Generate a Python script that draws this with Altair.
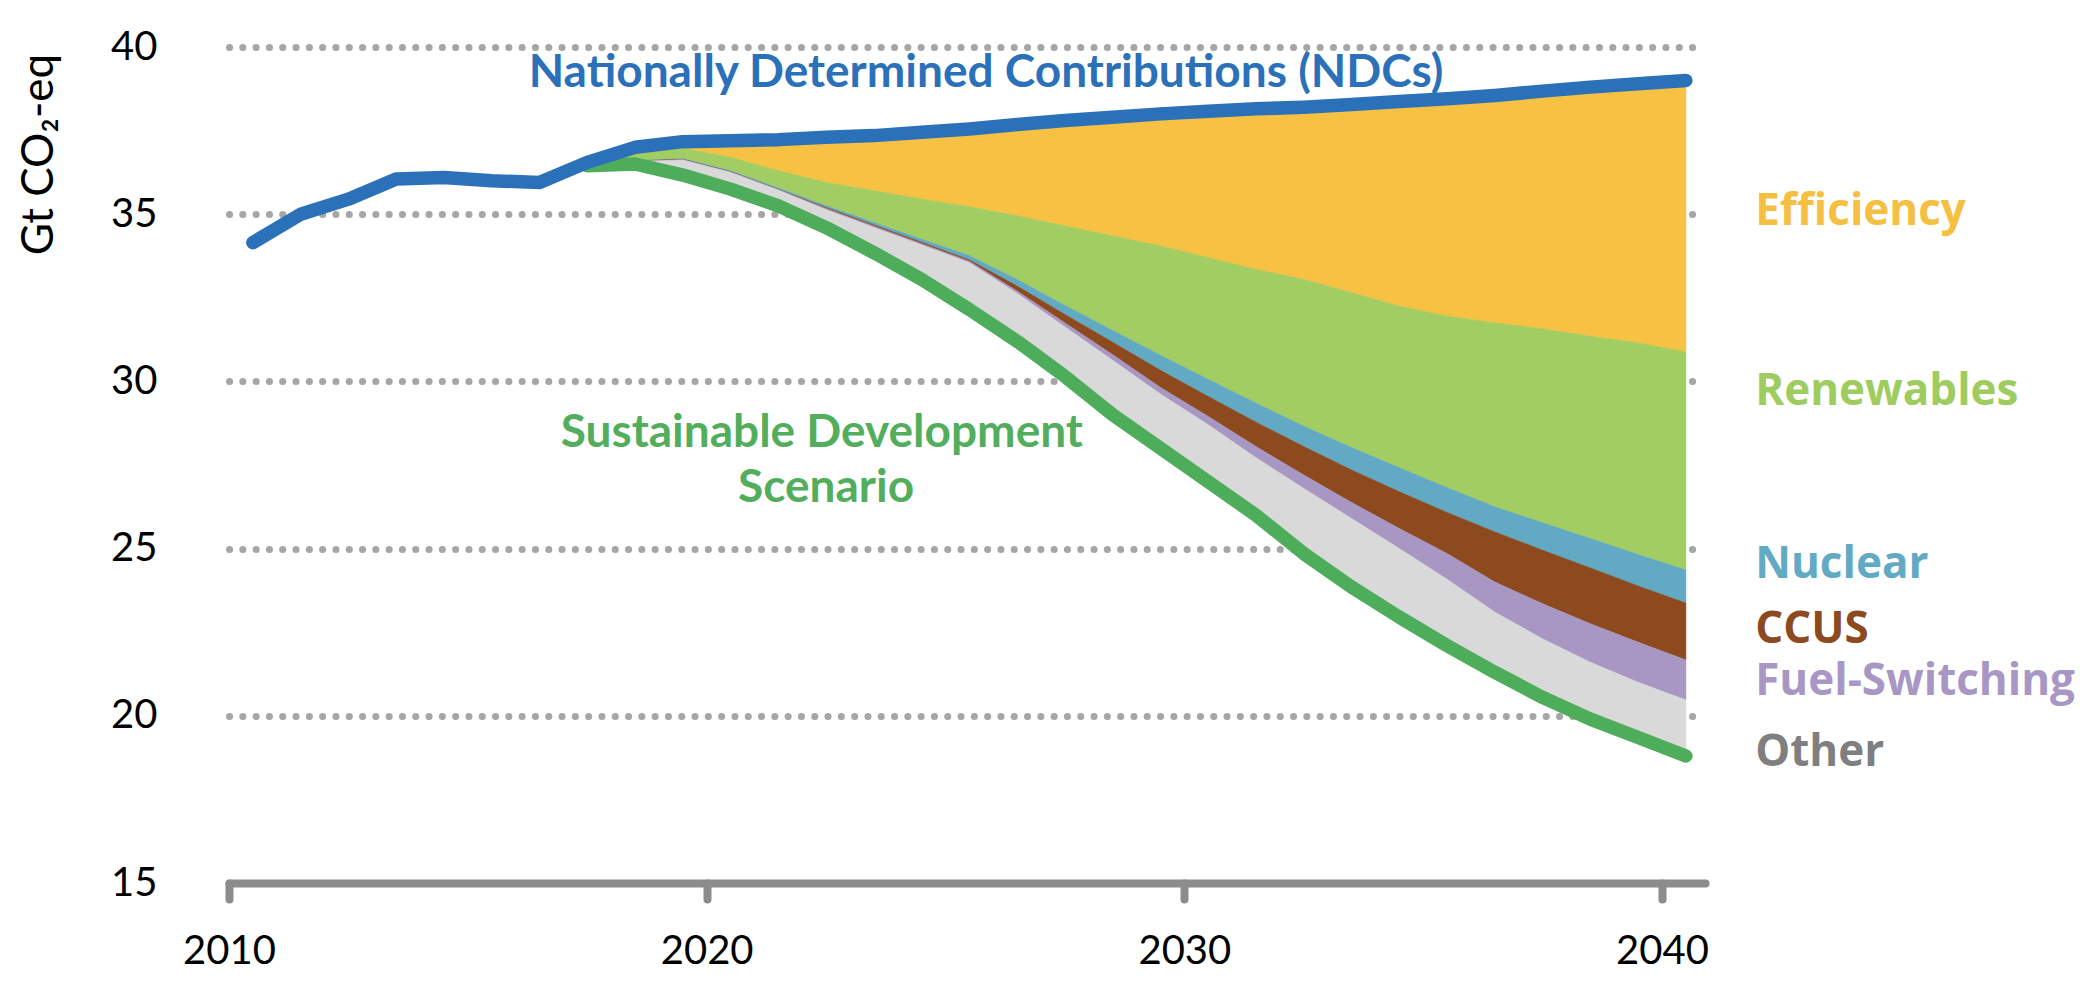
import altair as alt
import pandas as pd

# ---------------- data ----------------
years = list(range(2010, 2041))
ndc = [34.15, 35.0, 35.45, 36.05, 36.1, 36.0, 35.95, 36.55, 37.0, 37.17,
       37.2, 37.23, 37.3, 37.35, 37.45, 37.55, 37.68, 37.8, 37.9, 38.0,
       38.08, 38.15, 38.2, 38.28, 38.37, 38.45, 38.55, 38.68, 38.8, 38.9, 39.0]

wedge_years = list(range(2017, 2041))
sds = [36.45, 36.5, 36.17, 35.75, 35.25, 34.6, 33.85, 33.05, 32.15, 31.2,
       30.15, 29.0, 28.0, 27.0, 26.0, 24.85, 23.85, 22.95, 22.1, 21.3,
       20.55, 19.9, 19.35, 18.8]
other_top = [36.5, 36.57, 36.62, 36.25, 35.72, 35.13, 34.6, 34.08, 33.55, 32.63,
             31.63, 30.63, 29.62, 28.7, 27.72, 26.8, 25.9, 25.0, 24.08, 23.1,
             22.3, 21.6, 21.0, 20.47]
fuel_top = [36.5, 36.58, 36.63, 36.26, 35.73, 35.17, 34.64, 34.12, 33.59, 32.7,
            31.75, 30.8, 29.82, 28.95, 28.05, 27.2, 26.38, 25.6, 24.85, 24.0,
            23.35, 22.75, 22.2, 21.67]
ccus_top = [36.5, 36.59, 36.64, 36.27, 35.74, 35.2, 34.68, 34.16, 33.63, 32.85,
            32.0, 31.17, 30.33, 29.55, 28.78, 28.05, 27.35, 26.7, 26.08, 25.5,
            24.95, 24.42, 23.88, 23.37]
nuclear_top = [36.5, 36.6, 36.66, 36.3, 35.78, 35.25, 34.75, 34.25, 33.76, 33.05,
               32.27, 31.52, 30.78, 30.06, 29.35, 28.66, 28.02, 27.42, 26.82, 26.25,
               25.77, 25.3, 24.82, 24.36]
renew_top = [36.5, 36.85, 36.97, 36.7, 36.3, 35.95, 35.7, 35.45, 35.22, 34.95,
             34.65, 34.35, 34.05, 33.7, 33.35, 33.05, 32.65, 32.25, 31.95, 31.75,
             31.57, 31.35, 31.15, 30.88]

wedge_names = ["Efficiency", "Renewables", "Nuclear", "CCUS", "Fuel-Switching", "Other"]
fill_colors = ["#F7C143", "#A1CD62", "#62AAC3", "#8C4A1E", "#A997C3", "#D9D9D9"]
label_colors = ["#F5BF42", "#9FCC60", "#62AAC3", "#8B4A1F", "#A897C4", "#7F7F7F"]
label_y = [35.07, 29.68, 24.51, 22.57, 21.01, 18.89]

y_ticks = [15, 20, 25, 30, 35, 40]
x_ticks = [2010, 2020, 2030, 2040]

NDC_COLOR = "#2B71B9"
SDS_COLOR = "#4EAD5B"
POS = 0.5  # points sit in the middle of each year

# ---------------- tables ----------------
ndc_by_year = dict(zip(years, ndc))
tops = [[ndc_by_year[y] for y in wedge_years], renew_top, nuclear_top,
        ccus_top, fuel_top, other_top, sds]

ndc_df = pd.DataFrame({"x": [y + POS for y in years], "y": ndc})
sds_df = pd.DataFrame({"x": [y + POS for y in wedge_years], "y": sds})

lab_df = pd.DataFrame({"x": [2041.95] * len(wedge_names), "y": label_y,
                       "label": wedge_names, "col": label_colors})
ndc_lab = pd.DataFrame({"x": [2025.85], "y": [39.22],
                        "label": ["Nationally Determined Contributions (NDCs)"]})
sds_lab = pd.DataFrame({"x": [2022.41, 2022.5], "y": [28.46, 26.8],
                        "label": ["Sustainable Development", "Scenario"]})

xscale = alt.Scale(domain=[2010, 2040.9], nice=False, zero=False)
yscale = alt.Scale(domain=[15, 40], nice=False, zero=False)

xaxis = alt.Axis(values=x_ticks, format="d", title=None, grid=False,
                 domainColor="#8C8C8C", domainWidth=8, domainCap="round",
                 tickColor="#8C8C8C", tickWidth=8, tickSize=16, tickCap="round",
                 labelFont="Lato", labelFontSize=40, labelColor="#000000",
                 labelPadding=32, labelFlush=False)
yaxis = alt.Axis(values=y_ticks, title="Gt CO₂-eq", domain=False, ticks=False, tickSize=0,
                 grid=True, gridColor="#A6A6A6", gridWidth=7, gridDash=[0.1, 13.2],
                 gridCap="round",
                 labelFont="Lato", labelFontSize=40, labelColor="#000000",
                 labelPadding=72,
                 titleFont="Lato", titleFontSize=44, titleFontWeight="normal",
                 titleColor="#000000", titleAngle=270, titleX=-190, titleY=107,
                 titleAlign="center", titleBaseline="middle")


def X():
    return alt.X("x:Q", scale=xscale, axis=xaxis)


def Y():
    return alt.Y("y:Q", scale=yscale, axis=yaxis)


area_layers = []
for k, name in enumerate(wedge_names):
    d = pd.DataFrame({"x": [yr + POS for yr in wedge_years],
                      "y": tops[k], "y2": tops[k + 1]})
    area_layers.append(
        alt.Chart(d).mark_area(interpolate="linear", color=fill_colors[k],
                               stroke=fill_colors[k], strokeWidth=0.6).encode(
            x=X(), y=Y(), y2="y2:Q",
        )
    )

sds_line = alt.Chart(sds_df).mark_line(color=SDS_COLOR, strokeWidth=13.5,
                                       strokeCap="round", strokeJoin="round").encode(x=X(), y=Y())

ndc_line = alt.Chart(ndc_df).mark_line(color=NDC_COLOR, strokeWidth=13.5,
                                       strokeCap="round", strokeJoin="round").encode(x=X(), y=Y())

labels = alt.Chart(lab_df).mark_text(align="left", baseline="middle", font="Open Sans",
                                     fontSize=44, fontWeight="bold").encode(
    x=X(), y=Y(), text="label:N", color=alt.Color("col:N", scale=None))

ndc_text = alt.Chart(ndc_lab).mark_text(align="center", baseline="middle", font="Lato",
                                        fontSize=46, fontWeight="bold", color=NDC_COLOR).encode(
    x=X(), y=Y(), text="label:N")

sds_text = alt.Chart(sds_lab).mark_text(align="center", baseline="middle", font="Lato",
                                        fontSize=46, fontWeight="bold", color="#52AE5C").encode(
    x=X(), y=Y(), text="label:N")

chart = alt.layer(*area_layers, sds_line, ndc_line, labels, ndc_text, sds_text).properties(
    width=1476, height=836,
    padding={"left": 221, "top": 39, "right": 375, "bottom": 95},
    autosize=alt.AutoSizeParams(type="none"),
    background="white",
).configure_view(stroke=None)

chart.save("out.html", embed_options={"renderer": "svg", "actions": False})
